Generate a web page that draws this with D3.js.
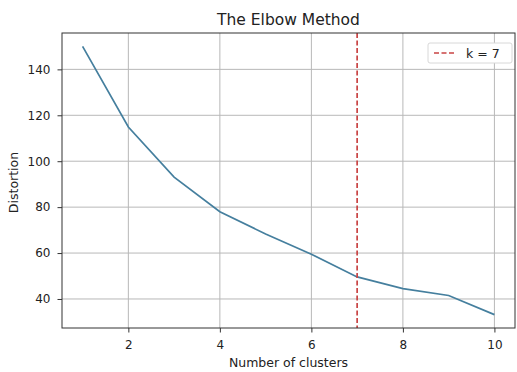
<!DOCTYPE html>
<html>
<head>
<meta charset="utf-8">
<script src="https://cdn.jsdelivr.net/npm/d3@7"></script>
<style>
  body { margin: 0; background: #fff; }
  svg { display: block; font-family: "DejaVu Sans", sans-serif; }
</style>
</head>
<body>
<svg id="chart"></svg>
<script>
const clusters = [1, 2, 3, 4, 5, 6, 7, 8, 9, 10]
const distortion = [150, 114.9, 93.1, 78, 68.3, 59.5, 49.6, 44.5, 41.5, 33.2]
const xTicks = [2, 4, 6, 8, 10]
const yTicks = [40, 60, 80, 100, 120, 140]
const elbowK = 7

const width = 517
const height = 372
const margin = { top: 33, right: 2, bottom: 44, left: 62 }
const innerWidth = width - margin.left - margin.right
const innerHeight = height - margin.top - margin.bottom

const svg = d3.select("#chart").attr("width", width).attr("height", height)
const g = svg.append("g").attr("transform", `translate(${margin.left},${margin.top})`)

// matplotlib style 5% padding on each side
const xExt = d3.extent(clusters)
const yExt = d3.extent(distortion)
const xPad = (xExt[1] - xExt[0]) * 0.05
const yPad = (yExt[1] - yExt[0]) * 0.05
const x = d3.scaleLinear().domain([xExt[0] - xPad, xExt[1] + xPad]).range([0, innerWidth])
const y = d3.scaleLinear().domain([yExt[0] - yPad, yExt[1] + yPad]).range([innerHeight, 0])

// grid
g.append("g")
  .selectAll("line")
  .data(xTicks)
  .enter()
  .append("line")
  .attr("x1", (d) => x(d)).attr("x2", (d) => x(d))
  .attr("y1", 0).attr("y2", innerHeight)
  .attr("stroke", "#b8b8b8").attr("stroke-width", 1)
g.append("g")
  .selectAll("line")
  .data(yTicks)
  .enter()
  .append("line")
  .attr("x1", 0).attr("x2", innerWidth)
  .attr("y1", (d) => y(d)).attr("y2", (d) => y(d))
  .attr("stroke", "#b8b8b8").attr("stroke-width", 1)

// data line
const line = d3.line().x((d, i) => x(clusters[i])).y((d) => y(d))
g.append("path")
  .datum(distortion)
  .attr("d", line)
  .attr("fill", "none")
  .attr("stroke", "#457f9e")
  .attr("stroke-width", 1.7)

// elbow marker
g.append("line")
  .attr("x1", x(elbowK)).attr("x2", x(elbowK))
  .attr("y1", 0).attr("y2", innerHeight)
  .attr("stroke", "#c94444")
  .attr("stroke-width", 1.7)
  .attr("stroke-dasharray", "5,2.5")

// axes
const xAxis = g.append("g")
  .attr("transform", `translate(0,${innerHeight})`)
  .call(d3.axisBottom(x).tickValues(xTicks).tickSize(4.5).tickPadding(7.5))
const yAxis = g.append("g")
  .call(d3.axisLeft(y).tickValues(yTicks).tickSize(4.5).tickPadding(7))
;[xAxis, yAxis].forEach((a) => {
  a.select(".domain").remove()
  a.selectAll("text").attr("font-size", 12).attr("fill", "#222").attr("font-family", "DejaVu Sans, sans-serif")
  a.selectAll("line").attr("stroke", "#333")
})

// frame
g.append("rect")
  .attr("width", innerWidth).attr("height", innerHeight)
  .attr("fill", "none").attr("stroke", "#333").attr("stroke-width", 1)

// title and labels
svg.append("text")
  .attr("x", margin.left + innerWidth / 2).attr("y", 25)
  .attr("text-anchor", "middle").attr("font-size", 15.5).attr("fill", "#222")
  .text("The Elbow Method")
svg.append("text")
  .attr("x", margin.left + innerWidth / 2).attr("y", 367)
  .attr("text-anchor", "middle").attr("font-size", 12.5).attr("fill", "#222")
  .text("Number of clusters")
svg.append("text")
  .attr("transform", `translate(18,${margin.top + innerHeight / 2 + 2}) rotate(-90)`)
  .attr("text-anchor", "middle").attr("font-size", 12.5).attr("fill", "#222")
  .text("Distortion")

// legend
const lg = svg.append("g").attr("transform", "translate(428,43)")
lg.append("rect")
  .attr("width", 84).attr("height", 20).attr("rx", 2)
  .attr("fill", "#fff").attr("stroke", "#d8d8d8")
lg.append("line")
  .attr("x1", 6).attr("x2", 28).attr("y1", 10).attr("y2", 10)
  .attr("stroke", "#c94444").attr("stroke-width", 1.7)
  .attr("stroke-dasharray", "5,2.5")
lg.append("text")
  .attr("x", 38).attr("y", 14.5).attr("font-size", 12.5).attr("fill", "#222")
  .text(`k = ${elbowK}`)
</script>
</body>
</html>
